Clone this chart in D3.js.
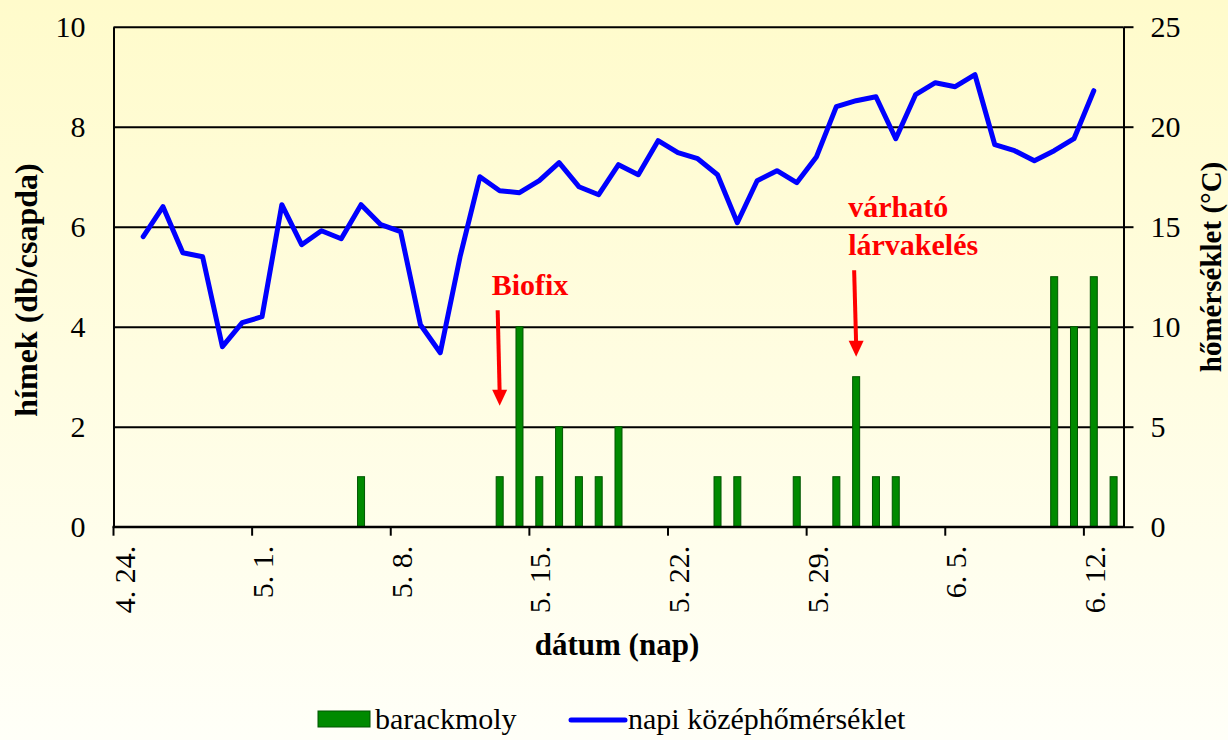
<!DOCTYPE html>
<html>
<head>
<meta charset="utf-8">
<script src="https://cdn.jsdelivr.net/npm/d3@7"></script>
<style>
  body { margin: 0; background: #fffff5; }
  svg { display: block; }
  svg text { font-family: "Liberation Serif", "Times New Roman", serif; }
</style>
</head>
<body>
<div id="chart"></div>
<script>
// categories: one per day, 4.24 .. 6.13
var days = ["4.24","4.25","4.26","4.27","4.28","4.29","4.30",
  "5.1","5.2","5.3","5.4","5.5","5.6","5.7","5.8","5.9","5.10","5.11","5.12","5.13","5.14",
  "5.15","5.16","5.17","5.18","5.19","5.20","5.21","5.22","5.23","5.24","5.25","5.26","5.27",
  "5.28","5.29","5.30","5.31","6.1","6.2","6.3","6.4","6.5","6.6","6.7","6.8","6.9","6.10",
  "6.11","6.12","6.13"];

// barackmoly catch (hímek db/csapda)
var moths = [0,0,0,0,0,0,0, 0,0,0,0,0,1,0,0,0,0,0,0,1,4, 1,2,1,1,2,0,0,0,0,1,1,0,0,
  1,0,1,3,1,1,0,0,0,0,0,0,0,5, 4,5,1];

// napi középhőmérséklet (°C), null = no reading
var temps = [null,14.5,16.0,13.7,13.5,9.0,10.2, 10.5,16.1,14.1,14.8,14.4,16.1,15.1,14.75,10.1,8.7,13.5,17.5,16.8,16.7,
  17.3,18.2,17.0,16.6,18.1,17.6,19.3,18.7,18.4,17.6,15.2,17.3,17.8,17.2,
  18.5,21.0,21.3,21.5,19.4,21.6,22.2,22.0,22.6,19.1,18.8,18.3,18.8,
  19.4,21.8,null];

var tickDays   = ["4.24","5.1","5.8","5.15","5.22","5.29","6.5","6.12"];
var tickLabels = ["4. 24.","5. 1.","5. 8.","5. 15.","5. 22.","5. 29.","6. 5.","6. 12."];

var leftTicks  = [0,2,4,6,8,10];
var rightTicks = [0,5,10,15,20,25];

// annotations: label lines, day the arrow points to, arrow top / tip and text baseline in moth units
var notes = [
  {lines: ["Biofix"],               day: "5.13", top: 4.33, tip: 2.42, text: 4.63},
  {lines: ["várható","lárvakelés"], day: "5.31", top: 5.13, tip: 3.40, text: 6.20}
];

var W = 1228, H = 740;
var margin = {top: 26.7, right: 104.5, bottom: 213.3, left: 113.5};
var x0 = margin.left, x1 = W - margin.right, y0 = H - margin.bottom, y1 = margin.top;
var serif = "Liberation Serif, Times New Roman, serif";

var svg = d3.select("#chart").append("svg")
  .attr("width", W).attr("height", H);

// background gradient
var grad = svg.append("defs").append("linearGradient")
  .attr("id", "bg").attr("x1", 0).attr("y1", 0).attr("x2", 0).attr("y2", 1);
grad.append("stop").attr("offset", "0%").attr("stop-color", "#fffbcb");
grad.append("stop").attr("offset", "100%").attr("stop-color", "#fffff8");
svg.append("rect").attr("width", W).attr("height", H).attr("fill", "url(#bg)");

var x  = d3.scaleBand().domain(days).range([x0, x1]);
var yL = d3.scaleLinear().domain([0, 10]).range([y0, y1]);
var yR = d3.scaleLinear().domain([0, 25]).range([y0, y1]);
var bw = x.bandwidth();

// d3 axes put sans-serif on the group, swap it for the serif face
function styleAxis(g) {
  g.attr("font-family", serif).attr("font-size", 30);
  g.select(".domain").attr("stroke", "#000").attr("stroke-width", 2);
  g.selectAll(".tick line").attr("stroke", "#000").attr("stroke-width", 2);
  g.selectAll("text").attr("fill", "#000");
}

// gridlines
svg.append("g")
  .attr("transform", "translate(" + x0 + ",0)")
  .call(d3.axisLeft(yL).tickValues(leftTicks).tickSize(-(x1 - x0)).tickFormat(""))
  .call(styleAxis)
  .call(function(g) { g.select(".domain").remove(); });

// left axis labels
svg.append("g")
  .attr("transform", "translate(" + x0 + ",0)")
  .call(d3.axisLeft(yL).tickValues(leftTicks).tickSize(0).tickPadding(28).tickFormat(d3.format("d")))
  .call(styleAxis);

// right axis
svg.append("g")
  .attr("transform", "translate(" + x1 + ",0)")
  .call(d3.axisRight(yR).tickValues(rightTicks).tickSize(10).tickSizeOuter(0).tickPadding(17).tickFormat(d3.format("d")))
  .call(styleAxis);

// bars
svg.append("g").selectAll("rect")
  .data(days.map(function(d, i) { return {day: d, v: moths[i]}; }).filter(function(d) { return d.v > 0; }))
  .enter().append("rect")
  .attr("x", function(d) { return x(d.day) + bw / 2 - 3.5; })
  .attr("y", function(d) { return yL(d.v); })
  .attr("width", 7)
  .attr("height", function(d) { return y0 - yL(d.v); })
  .attr("fill", "#008a00")
  .attr("stroke", "#005500")
  .attr("stroke-width", 1);

// bottom axis (ticks sit on category boundaries)
svg.append("line")
  .attr("x1", x0 - 1).attr("x2", x1 + 1).attr("y1", y0).attr("y2", y0)
  .attr("stroke", "#000").attr("stroke-width", 2);

var xt = svg.append("g").selectAll("g")
  .data(tickDays)
  .enter().append("g")
  .attr("transform", function(d) { return "translate(" + x(d) + "," + y0 + ")"; });
xt.append("line").attr("y2", 9).attr("stroke", "#000").attr("stroke-width", 2);
xt.append("text")
  .attr("transform", "translate(0,19) rotate(-90)")
  .attr("text-anchor", "end")
  .attr("y", 21)
  .attr("font-family", serif)
  .attr("font-size", 30)
  .text(function(d, i) { return tickLabels[i]; });

// temperature line
var line = d3.line()
  .defined(function(d) { return d.t != null; })
  .x(function(d) { return x(d.day) + bw / 2; })
  .y(function(d) { return yR(d.t); });

svg.append("path")
  .datum(days.map(function(d, i) { return {day: d, t: temps[i]}; }))
  .attr("d", line)
  .attr("fill", "none")
  .attr("stroke", "#0000ff")
  .attr("stroke-width", 5)
  .attr("stroke-linejoin", "round")
  .attr("stroke-linecap", "round");

// annotations
notes.forEach(function(n) {
  var cx = x(n.day) + bw / 2;
  var tx = svg.append("text")
    .attr("x", cx - 8).attr("y", yL(n.text))
    .attr("fill", "#ff0000").attr("font-size", 30).attr("font-weight", "bold");
  n.lines.forEach(function(l, i) {
    tx.append("tspan").attr("x", cx - 8).attr("dy", i ? 38 : 0).text(l);
  });
  var ytop = yL(n.top), ytip = yL(n.tip);
  svg.append("line")
    .attr("x1", cx - 2).attr("y1", ytop).attr("x2", cx).attr("y2", ytip - 12)
    .attr("stroke", "#ff0000").attr("stroke-width", 4);
  svg.append("path")
    .attr("d", "M" + (cx - 7.5) + "," + (ytip - 16) + "L" + (cx + 7.5) + "," + (ytip - 16) + "L" + cx + "," + ytip + "Z")
    .attr("fill", "#ff0000");
});

// axis titles
svg.append("text")
  .attr("transform", "translate(37,290) rotate(-90)")
  .attr("text-anchor", "middle")
  .attr("font-size", 32).attr("font-weight", "bold")
  .text("hímek (db/csapda)");

svg.append("text")
  .attr("transform", "translate(1221,267) rotate(-90)")
  .attr("text-anchor", "middle")
  .attr("font-size", 29).attr("font-weight", "bold")
  .text("hőmérséklet (°C)");

svg.append("text")
  .attr("x", 617).attr("y", 655)
  .attr("text-anchor", "middle")
  .attr("font-size", 31).attr("font-weight", "bold")
  .text("dátum (nap)");

// legend
var lg = svg.append("g");
lg.append("rect").attr("x", 318).attr("y", 711).attr("width", 52).attr("height", 16)
  .attr("fill", "#008a00").attr("stroke", "#005500").attr("stroke-width", 1);
lg.append("text").attr("x", 375).attr("y", 729).attr("font-size", 30).text("barackmoly");
lg.append("line").attr("x1", 571).attr("x2", 625).attr("y1", 720).attr("y2", 720)
  .attr("stroke", "#0000ff").attr("stroke-width", 5).attr("stroke-linecap", "round");
lg.append("text").attr("x", 628).attr("y", 729).attr("font-size", 30).text("napi középhőmérséklet");
</script>
</body>
</html>
